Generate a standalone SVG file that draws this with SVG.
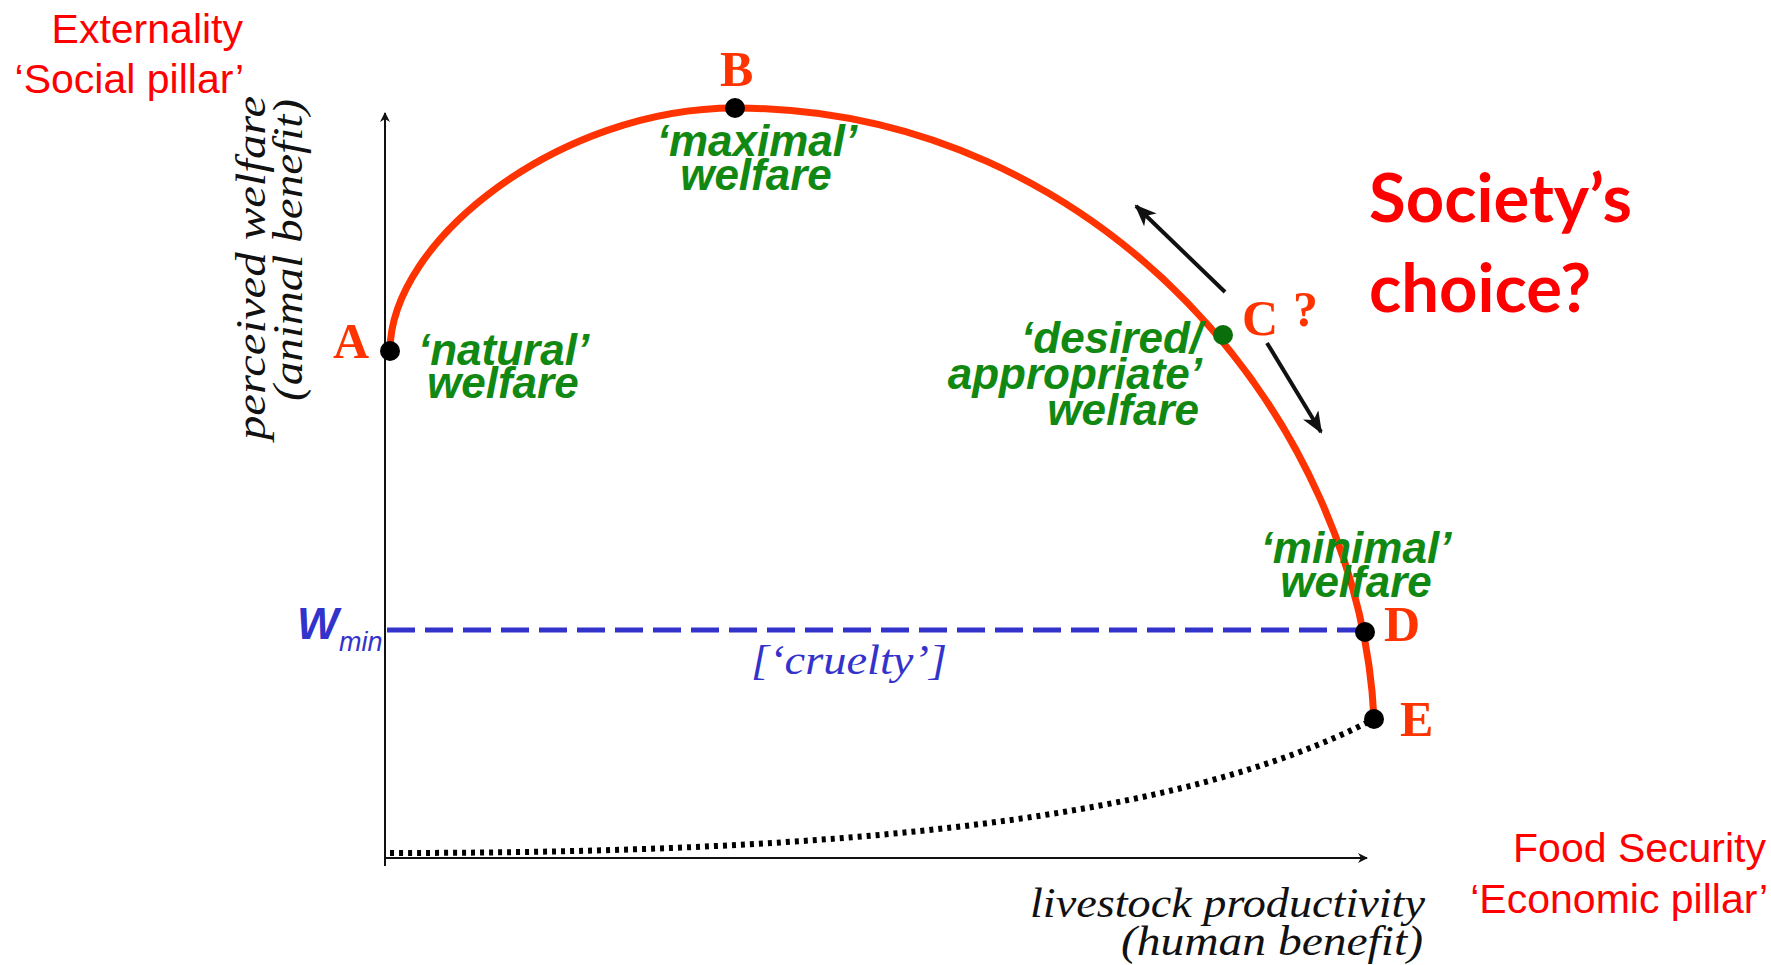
<svg xmlns="http://www.w3.org/2000/svg" width="1771" height="965" viewBox="0 0 1771 965">
<style>
.pillar{font-family:"Liberation Sans",Arial,sans-serif;font-size:41px;fill:#ff0000}
.choice{font-family:Lato,"Open Sans",sans-serif;font-weight:bold;font-size:67px;fill:#ff0000}
.axislbl{font-family:"Liberation Serif","Times New Roman",serif;font-style:italic;font-size:42px;fill:#111}
.green{font-family:"Liberation Sans",Arial,sans-serif;font-weight:bold;font-style:italic;font-size:44px;fill:#118811}
.pt{font-family:"Liberation Serif","Times New Roman",serif;font-weight:bold;font-size:50px;fill:#ff3300}
.blue{fill:#3333cc}
</style>
<defs>
<marker id="ax" markerWidth="10" markerHeight="10" refX="9" refY="5" orient="auto" markerUnits="userSpaceOnUse"><path d="M0,0 L10,5 L0,10 L3,5 Z" fill="#111"/></marker>
<marker id="ar" markerWidth="22" markerHeight="18" refX="20" refY="9" orient="auto" markerUnits="userSpaceOnUse"><path d="M0,0 L22,9 L0,18 L6,9 Z" fill="#111"/></marker>
</defs>
<rect width="1771" height="965" fill="#ffffff"/>

<g id="axes">
<line x1="385" y1="866" x2="385" y2="113" stroke="#111" stroke-width="2" marker-end="url(#ax)"/>
<line x1="385" y1="858" x2="1367" y2="858" stroke="#111" stroke-width="2" marker-end="url(#ax)"/>
</g>

<g id="connectors">
<path id="dotted" d="M390 853 C850 853,1180 820,1374 719" fill="none" stroke="#000" stroke-width="6" stroke-dasharray="4 5"/>
<line id="wmin-line" x1="387" y1="630" x2="1362" y2="630" stroke="#3333cc" stroke-width="5" stroke-dasharray="28 10"/>
<path id="frontier" d="M390 351 C390 240,560 108,735 108 C1100 108,1360 420,1374 719" fill="none" stroke="#ff3300" stroke-width="7"/>
<line id="arrow-up" x1="1225" y1="292" x2="1136" y2="206" stroke="#111" stroke-width="4" marker-end="url(#ar)"/>
<line id="arrow-down" x1="1267" y1="343" x2="1321" y2="432" stroke="#111" stroke-width="4" marker-end="url(#ar)"/>
</g>

<g id="node-A"><circle cx="390" cy="351" r="10" fill="#000"/><text class="pt" x="333" y="358">A</text>
<text class="green"><tspan x="418" y="365">‘natural’</tspan><tspan x="427" y="398">welfare</tspan></text></g>
<g id="node-B"><circle cx="735" cy="108" r="10" fill="#000"/><text class="pt" x="720" y="86">B</text>
<text class="green" text-anchor="middle"><tspan x="757" y="156">‘maximal’</tspan><tspan x="756" y="190">welfare</tspan></text></g>
<g id="node-C"><circle cx="1223" cy="335" r="10" fill="#0a6e0a"/><text class="pt" x="1242" y="335" font-weight="normal">C</text><text class="pt" x="1293" y="326" font-size="56">?</text>
<text class="green" text-anchor="end"><tspan x="1202" y="353">‘desired/</tspan><tspan x="1202" y="389">appropriate’</tspan><tspan x="1199" y="425">welfare</tspan></text></g>
<g id="node-D"><circle cx="1365" cy="632" r="10" fill="#000"/><text class="pt" x="1384" y="641">D</text>
<text class="green" text-anchor="middle"><tspan x="1356" y="563">‘minimal’</tspan><tspan x="1356" y="597">welfare</tspan></text></g>
<g id="node-E"><circle cx="1374" cy="719" r="10" fill="#000"/><text class="pt" x="1400" y="736">E</text></g>

<g id="labels">
<text class="pillar" text-anchor="end"><tspan x="243" y="43">Externality</tspan><tspan x="244" y="93">‘Social pillar’</tspan></text>
<text class="pillar" text-anchor="end"><tspan x="1766" y="862">Food Security</tspan><tspan x="1768" y="913">‘Economic pillar’</tspan></text>
<text class="choice"><tspan x="1369" y="222">Society’s</tspan><tspan x="1369" y="312">choice?</tspan></text>
<text class="axislbl" transform="translate(265,268) rotate(-90)" text-anchor="middle" textLength="344" lengthAdjust="spacingAndGlyphs">perceived  welfare</text>
<text class="axislbl" transform="translate(302,250) rotate(-90)" text-anchor="middle" textLength="302" lengthAdjust="spacingAndGlyphs">(animal benefit)</text>
<text class="axislbl" x="1425" y="917" text-anchor="end" textLength="395" lengthAdjust="spacingAndGlyphs">livestock productivity</text>
<text class="axislbl" x="1423" y="955" text-anchor="end" textLength="302" lengthAdjust="spacingAndGlyphs">(human benefit)</text>
<text class="axislbl blue" x="751" y="674" textLength="196" lengthAdjust="spacingAndGlyphs">[‘cruelty’]</text>
<text class="blue" x="297" y="639" font-family="Liberation Sans, Arial, sans-serif" font-style="italic" font-weight="bold" font-size="44">W</text>
<text class="blue" x="339" y="651" font-family="Liberation Sans, Arial, sans-serif" font-style="italic" font-size="27">min</text>
</g>
</svg>
